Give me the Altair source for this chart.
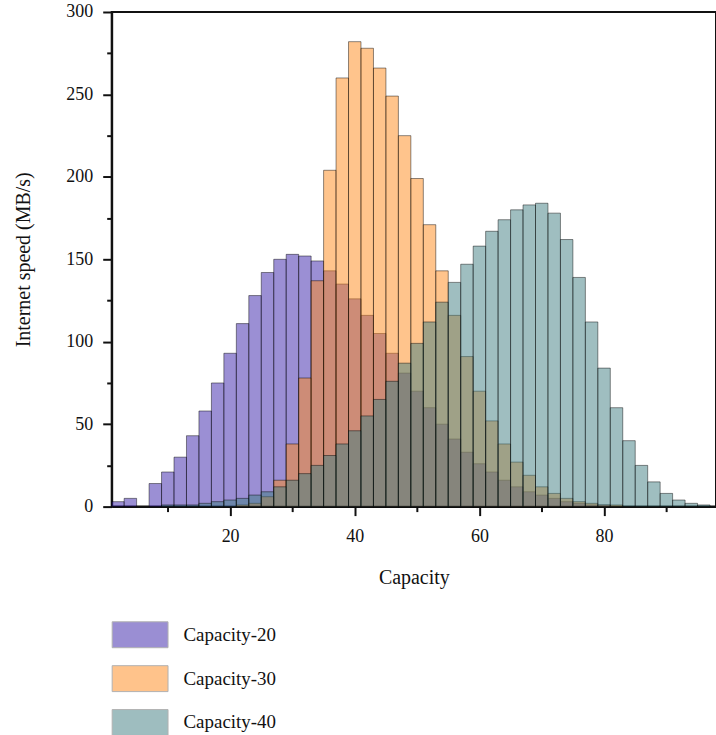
import altair as alt
import pandas as pd

bin_starts = list(range(1, 97, 2))  # bins of width 2: [1,3), [3,5), ... [95,97)
bin_width = 2

series_names = ["Capacity-20", "Capacity-30", "Capacity-40"]
series_colors = ["#371fa9", "#ff8919", "#3f7d81"]

cap20 = [3, 5, 0, 14, 21, 30, 43, 58, 75, 93, 111, 128, 142, 150, 153, 152,
         149, 143, 135, 126, 116, 105, 93, 81, 70, 60, 50, 41, 33, 26, 21, 16,
         12, 9, 7, 5, 3, 2, 1, 1, 0, 0, 0, 0, 0, 0, 0, 0]
cap30 = [0, 0, 0, 0, 0, 0, 0, 0, 0, 0, 1, 2, 6, 16, 38, 78,
         137, 204, 260, 282, 278, 266, 249, 225, 199, 171, 143, 116, 91, 70, 52, 38,
         27, 19, 12, 8, 5, 3, 2, 1, 1, 0, 0, 0, 0, 0, 0, 0]
cap40 = [0, 0, 0, 0, 1, 1, 1, 2, 3, 4, 5, 7, 9, 12, 16, 20,
         25, 31, 38, 46, 55, 65, 76, 87, 99, 112, 124, 136, 147, 158, 167, 174,
         180, 183, 184, 178, 162, 139, 112, 84, 60, 40, 25, 15, 8, 4, 2, 1]

x_ticks = [10, 20, 30, 40, 50, 60, 70, 80, 90]
y_ticks = [0, 25, 50, 75, 100, 125, 150, 175, 200, 225, 250, 275, 300]

rows = []
for name, vals in zip(series_names, [cap20, cap30, cap40]):
    for s, v in zip(bin_starts, vals):
        if v > 0:
            rows.append({"series": name, "start": s, "end": s + bin_width, "count": v})
df = pd.DataFrame(rows)

FONT = "Liberation Serif"

bars = alt.Chart(df).mark_bar(
    fillOpacity=0.5, stroke="#000000", strokeOpacity=0.45, strokeWidth=1
).encode(
    x=alt.X("start:Q",
            scale=alt.Scale(domain=[1, 97.96], nice=False, zero=False),
            axis=alt.Axis(title="Capacity", values=x_ticks,
                          labelExpr="datum.value % 20 == 0 ? datum.label : ''",
                          tickSize=alt.condition("datum.value % 20 == 0", alt.value(9), alt.value(5)),
                          labelPadding=12, titlePadding=22)),
    x2="end:Q",
    y=alt.Y("count:Q", stack=None,
            scale=alt.Scale(domain=[0, 300], nice=False),
            axis=alt.Axis(title="Internet speed (MB/s)", values=y_ticks,
                          labelExpr="datum.value % 50 == 0 ? datum.label : ''",
                          tickSize=alt.condition("datum.value % 50 == 0", alt.value(9), alt.value(5)),
                          labelPadding=10, titlePadding=32)),
    y2=alt.datum(0),
    color=alt.Color("series:N",
                    scale=alt.Scale(domain=series_names, range=series_colors),
                    legend=alt.Legend(
                        title=None, orient="none", legendX=0, legendY=596,
                        direction="vertical",
                        symbolType="M-1,-0.464L1,-0.464L1,0.464L-1,0.464Z",
                        symbolSize=3136, symbolOpacity=0.5,
                        symbolStrokeColor="#666666", symbolStrokeWidth=1,
                        rowPadding=-13, labelOffset=15, padding=0,
                        labelFont=FONT, labelFontSize=19, labelColor="#111111")),
    order=alt.Order("series:N")
).properties(
    width=606, height=496,
    padding={"left": 112, "top": 11, "right": 0, "bottom": 228},
    autosize=alt.AutoSizeParams(type="none")
)

chart = bars.configure_view(
    stroke="#111111", strokeWidth=2
).configure_axis(
    grid=False, domainColor="#111111", domainWidth=2,
    tickColor="#111111", tickWidth=2,
    labelFont=FONT, labelFontSize=18, labelColor="#111111",
    titleFont=FONT, titleFontSize=20, titleFontWeight="normal", titleColor="#111111"
)

chart.save("out.html", embed_options={"renderer": "svg", "actions": False})
